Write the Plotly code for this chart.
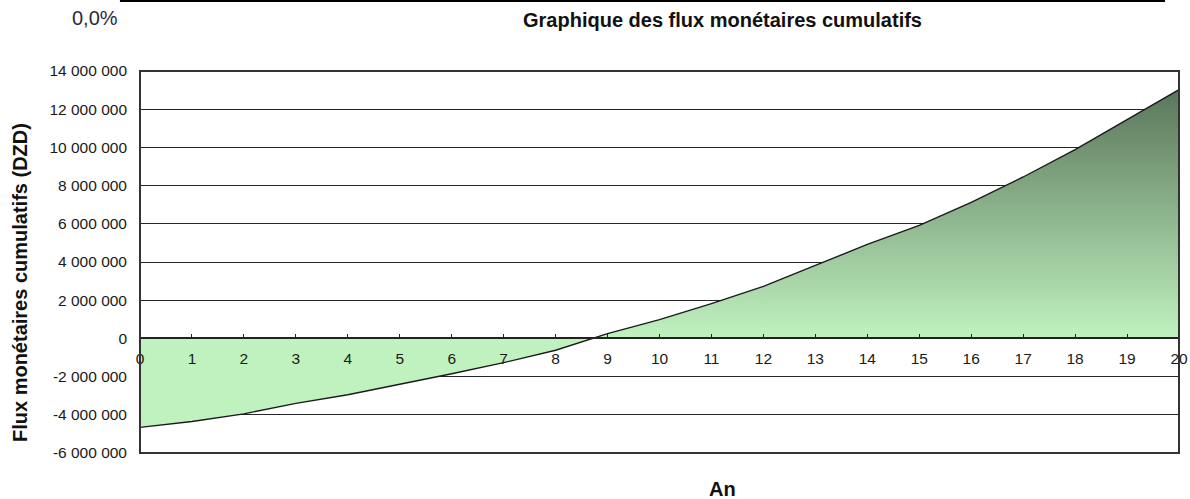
import plotly.graph_objects as go

# Cumulative cash flow per year (DZD)
years = list(range(21))
cumulative = [-4.66e6, -4.35e6, -3.95e6, -3.40e6, -2.95e6, -2.42e6, -1.85e6,
              -1.27e6, -0.62e6, 0.25e6, 0.98e6, 1.82e6, 2.72e6, 3.82e6,
              4.92e6, 5.92e6, 7.12e6, 8.45e6, 9.88e6, 11.45e6, 13.02e6]

y_ticks = [-6e6, -4e6, -2e6, 0, 2e6, 4e6, 6e6, 8e6, 10e6, 12e6, 14e6]
y_tick_text = ["-6 000 000", "-4 000 000", "-2 000 000", "0", "2 000 000",
               "4 000 000", "6 000 000", "8 000 000", "10 000 000",
               "12 000 000", "14 000 000"]

title_text = "Graphique des flux monétaires cumulatifs"
rate_text = "0,0%"
x_title = "An"
y_title = "Flux monétaires cumulatifs (DZD)"

FONT = "Liberation Sans, Arial, sans-serif"
Y_MIN, Y_MAX = -6e6, 14e6

fig = go.Figure()
fig.add_trace(go.Scatter(
    x=years, y=cumulative, mode="lines",
    line=dict(color="#1a1a1a", width=1.4),
    fill="tozeroy",
    fillgradient=dict(type="vertical",
                      colorscale=[[0, "#c0f2c0"], [1, "#5a765a"]],
                      start=0, stop=max(cumulative)),
    hoverinfo="skip", showlegend=False,
))

# x axis sits on the zero line
zero_pos = (0 - Y_MIN) / (Y_MAX - Y_MIN)

fig.update_layout(
    width=1190, height=499,
    margin=dict(l=140, r=11, t=71, b=46, autoexpand=False),
    paper_bgcolor="white", plot_bgcolor="white",
    font=dict(family=FONT, color="#1a1a1a"),
    xaxis=dict(
        range=[0, 20], tickvals=years, ticktext=[str(v) for v in years],
        anchor="free", position=zero_pos, automargin=False,
        showline=True, linecolor="#222", linewidth=1.5,
        ticks="inside", ticklen=4, tickcolor="#222", tickwidth=1,
        ticklabelstandoff=6,
        showgrid=False, zeroline=False,
        tickfont=dict(size=15.5, color="#1a1a1a"),
    ),
    yaxis=dict(
        range=[Y_MIN, Y_MAX], tickvals=y_ticks, ticktext=y_tick_text,
        automargin=False,
        showgrid=True, gridcolor="#262626", gridwidth=1,
        zeroline=False, showline=False, ticks="",
        ticklabelstandoff=12,
        tickfont=dict(size=15.5, color="#1a1a1a"),
    ),
    shapes=[
        # plot frame
        dict(type="rect", xref="x domain", yref="y domain",
             x0=0, x1=1, y0=0, y1=1, line=dict(color="#333", width=2),
             layer="above"),
        # rule along the top of the page
        dict(type="line", xref="paper", yref="paper",
             x0=-0.0193, x1=0.9865, y0=1.1832, y1=1.1832,
             line=dict(color="black", width=2)),
    ],
    annotations=[
        dict(text=f"<b>{title_text}</b>", xref="paper", yref="paper",
             x=0.5602, y=1.1335, xanchor="center", yanchor="middle",
             showarrow=False, font=dict(size=20, color="#111")),
        dict(text=rate_text, xref="paper", yref="paper",
             x=-0.0433, y=1.1387, xanchor="center", yanchor="middle",
             showarrow=False, font=dict(size=20, color="#2a2a3a")),
        dict(text=f"<b>{x_title}</b>", xref="paper", yref="paper",
             x=0.5602, y=-0.094, xanchor="center", yanchor="middle",
             showarrow=False, font=dict(size=20, color="#111")),
        dict(text=f"<b>{y_title}</b>", xref="paper", yref="paper",
             x=-0.1155, y=0.4476, xanchor="center", yanchor="middle",
             textangle=-90, showarrow=False,
             font=dict(size=20, color="#111")),
    ],
)

fig.write_html("out.html")
